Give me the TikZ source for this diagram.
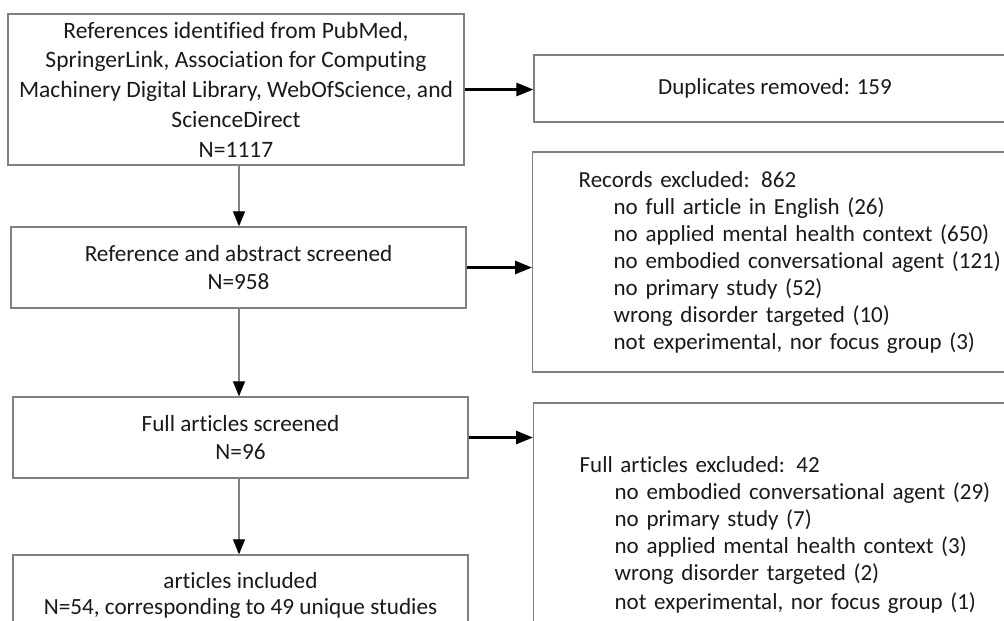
\documentclass[tikz,border=0pt]{standalone}
\usepackage{fontspec}
\setmainfont{Carlito}[Ligatures=NoCommon]
\usetikzlibrary{arrows.meta}
\definecolor{boxgray}{HTML}{808080}
\definecolor{txt}{HTML}{1A1A1A}
\tikzset{
  box/.style={draw=boxgray, line width=1.3pt, rectangle, inner sep=0pt, text=txt, align=center},
  harrow/.style={line width=2.6pt, -{Triangle[length=17pt,width=13pt]}},
  varrow/.style={draw=boxgray, line width=1.2pt, -{Triangle[length=15pt,width=12pt,color=black,fill=black]}},
  listbox/.style={draw=boxgray, line width=1.3pt, rectangle, inner ysep=0pt, inner xsep=46pt, text width=470pt, align=left, anchor=west, text=txt}
}
\newcommand{\ind}{\hspace*{35pt}}
\begin{document}
\begin{tikzpicture}[x=1pt,y=-1pt]
\clip (0,0) rectangle (1004,621);
\fill[white] (0,0) rectangle (1004,621);
\node[box, minimum width=456pt, minimum height=151pt, font=\fontsize{23.5}{29.7}\selectfont] (b1) at (236,89.5)
  {References identified from PubMed,\\SpringerLink, Association for Computing\\Machinery Digital Library, WebOfScience, and\\ScienceDirect\\N=1117};
\node[box, minimum width=455pt, minimum height=81pt, font=\fontsize{23.2}{28}\selectfont] (b2) at (238.5,267.5)
  {Reference and abstract screened\\N=958};
\node[box, minimum width=455pt, minimum height=81pt, font=\fontsize{23.2}{28}\selectfont] (b3) at (240.5,437.5)
  {Full articles screened\\N=96};
\node[box, minimum width=455pt, minimum height=80pt, font=\fontsize{23.2}{26}\selectfont] (b4) at (240.5,595)
  {articles included\\N=54, corresponding to 49 unique studies};
\node[box, minimum width=482pt, minimum height=67pt, font=\fontsize{23}{27}\selectfont] (dup) at (775,88.5)
  {Duplicates removed: 159};
\node[listbox, minimum height=220pt, font=\fontsize{23}{27}\selectfont] (rec) at (532,262)
  {Records excluded: 862\\
   \ind no full article in English (26)\\
   \ind no applied mental health context (650)\\
   \ind no embodied conversational agent (121)\\
   \ind no primary study (52)\\
   \ind wrong disorder targeted (10)\\
   \ind not experimental, nor focus group (3)};
\node[listbox, minimum height=264pt, font=\fontsize{23}{27}\selectfont] (full) at (533,535)
  {Full articles excluded: 42\\
   \ind no embodied conversational agent (29)\\
   \ind no primary study (7)\\
   \ind no applied mental health context (3)\\
   \ind wrong disorder targeted (2)\\[2pt]
   \ind not experimental, nor focus group (1)};
\draw[harrow] (b1.east) -- (b1.east -| dup.west);
\draw[harrow] (b2.east) -- (b2.east -| rec.west);
\draw[harrow] (b3.east) -- (b3.east -| full.west);
\draw[varrow] (b1.south -| 239,0) -- (b2.north -| 239,0);
\draw[varrow] (b2.south -| 239,0) -- (b3.north -| 239,0);
\draw[varrow] (b3.south -| 239,0) -- (b4.north -| 239,0);
\end{tikzpicture}
\end{document}
